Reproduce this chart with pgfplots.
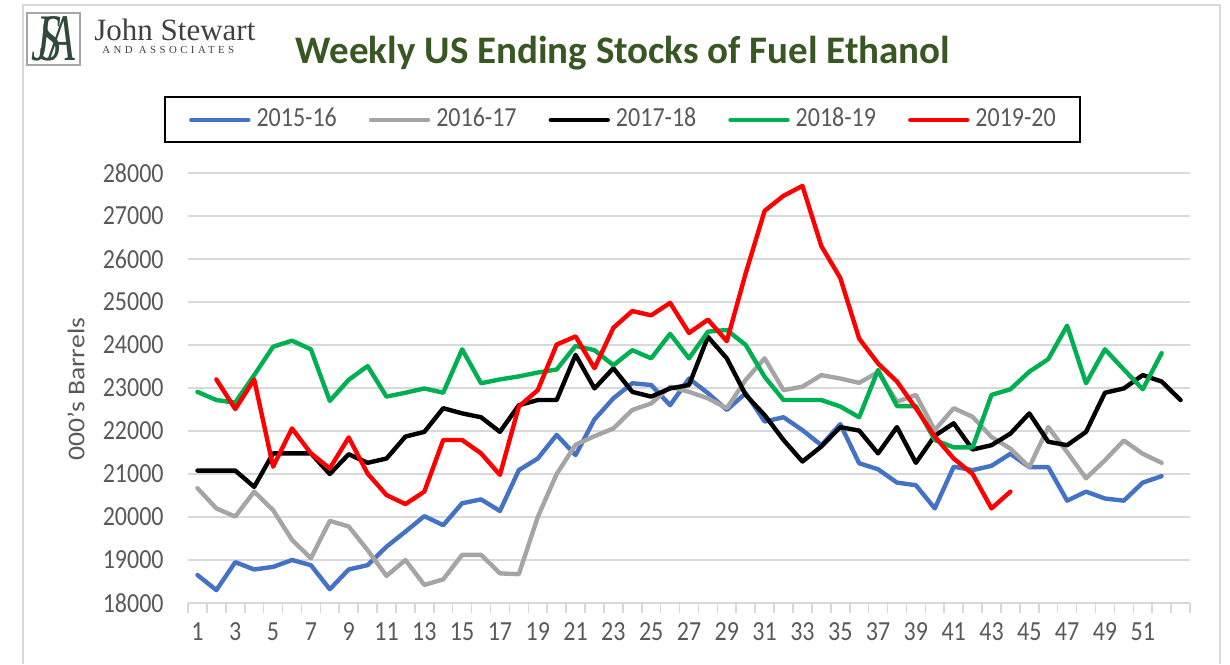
\documentclass[border=0pt]{standalone}
\usepackage{pgfplots}
\pgfplotsset{compat=1.18}
\usepackage{fontspec}
\usepackage{graphicx}
\setmainfont{Carlito}
\newfontfamily\serifjs{Liberation Serif}
\newfontfamily\serifjsls[LetterSpace=32]{Liberation Serif}
\definecolor{sA}{HTML}{4472C4}
\definecolor{sB}{HTML}{A5A5A5}
\definecolor{sC}{HTML}{000000}
\definecolor{sD}{HTML}{00B050}
\definecolor{sE}{HTML}{FF0000}
\definecolor{textgray}{HTML}{595959}
\definecolor{gridgray}{HTML}{D9D9D9}
\definecolor{titlegreen}{HTML}{385723}
\definecolor{logogreen}{HTML}{2F4A3A}
\newcommand\vs[1]{\scalebox{1}[1.15]{#1}}

\pgfplotstableread{
w v
1 18650
2 18300
3 18950
4 18780
5 18840
6 19000
7 18880
8 18320
9 18780
10 18880
11 19310
12 19660
13 20020
14 19810
15 20320
16 20410
17 20140
18 21090
19 21360
20 21910
21 21440
22 22270
23 22760
24 23110
25 23070
26 22600
27 23220
28 22880
29 22490
30 22880
31 22220
32 22320
33 22020
34 21670
35 22160
36 21250
37 21110
38 20800
39 20740
40 20200
41 21170
42 21090
43 21190
44 21470
45 21160
46 21160
47 20380
48 20590
49 20430
50 20380
51 20800
52 20950
}\tA

\pgfplotstableread{
w v
1 20670
2 20200
3 20010
4 20590
5 20160
6 19470
7 19040
8 19910
9 19780
10 19230
11 18630
12 19000
13 18420
14 18550
15 19120
16 19120
17 18690
18 18670
19 20000
20 21000
21 21680
22 21880
23 22060
24 22490
25 22640
26 23030
27 22910
28 22760
29 22530
30 23190
31 23690
32 22950
33 23030
34 23300
35 23220
36 23120
37 23370
38 22680
39 22840
40 22020
41 22530
42 22330
43 21860
44 21590
45 21160
46 22090
47 21510
48 20900
49 21320
50 21780
51 21470
52 21260
}\tB

\pgfplotstableread{
w v
1 21080
2 21080
3 21080
4 20700
5 21480
6 21480
7 21480
8 21000
9 21460
10 21260
11 21360
12 21870
13 21980
14 22530
15 22410
16 22320
17 21980
18 22600
19 22720
20 22720
21 23770
22 22990
23 23460
24 22910
25 22800
26 22990
27 23070
28 24190
29 23690
30 22840
31 22370
32 21790
33 21290
34 21640
35 22090
36 22010
37 21480
38 22090
39 21260
40 21890
41 22180
42 21570
43 21670
44 21940
45 22410
46 21750
47 21670
48 21980
49 22890
50 22990
51 23300
52 23150
53 22720
}\tC

\pgfplotstableread{
w v
1 22910
2 22720
3 22660
4 23300
5 23960
6 24100
7 23900
8 22700
9 23190
10 23510
11 22800
12 22890
13 22990
14 22890
15 23900
16 23110
17 23200
18 23270
19 23360
20 23430
21 23980
22 23880
23 23530
24 23880
25 23690
26 24260
27 23690
28 24310
29 24350
30 24000
31 23260
32 22720
33 22720
34 22720
35 22570
36 22320
37 23420
38 22580
39 22580
40 21790
41 21620
42 21620
43 22840
44 22970
45 23380
46 23670
47 24450
48 23110
49 23900
50 23430
51 22970
52 23810
}\tD

\pgfplotstableread{
w v
2 23200
3 22510
4 23200
5 21170
6 22060
7 21480
8 21130
9 21850
10 21010
11 20510
12 20300
13 20590
14 21790
15 21790
16 21480
17 20980
18 22570
19 22950
20 24010
21 24200
22 23460
23 24400
24 24790
25 24690
26 24980
27 24280
28 24590
29 24090
30 25670
31 27120
32 27470
33 27700
34 26300
35 25560
36 24150
37 23570
38 23150
39 22530
40 21870
41 21360
42 21000
43 20200
44 20590
}\tE

\begin{document}
\begin{tikzpicture}
\useasboundingbox (0pt,0pt) rectangle (615pt,-332pt);
% outer frame
\draw[gridgray, line width=1pt] (11.35pt,-332pt) -- (11.35pt,-2.5pt) -- (610pt,-2.5pt) -- (610pt,-332pt);
% logo
\draw[gray!70, line width=0.9pt] (13.5pt,-6.5pt) rectangle (40pt,-32.5pt);
\node[text=logogreen, inner sep=0pt] at (26.75pt,-19.5pt)
  {\resizebox{22pt}{22pt}{\serifjs\itshape J\kern-0.25em S\kern-0.3em A}};
\node[text=black!75, inner sep=0pt, anchor=base west] at (47pt,-20pt)
  {\fontsize{15.5}{15.5}\selectfont\serifjs John Stewart};
\node[text=black!75, inner sep=0pt, anchor=base west] at (51pt,-26.5pt)
  {\fontsize{5.4}{5.4}\selectfont\serifjsls AND ASSOCIATES};
% title
\node[text=titlegreen, inner sep=0pt, anchor=base] at (311.5pt,-31.5pt)
  {\fontsize{19.5}{19.5}\selectfont\bfseries Weekly US Ending Stocks of Fuel Ethanol};
% y label
\node[text=textgray, inner sep=0pt, rotate=90, font=\fontsize{12}{12}\selectfont] at (38pt,-194.5pt)
  {\scalebox{1.15}[1]{000's Barrels}};
\begin{axis}[
  at={(94pt,-301.5pt)}, anchor=south west,
  scale only axis, width=501pt, height=215pt,
  xmin=0.5, xmax=53.5, ymin=18000, ymax=28000,
  axis x line*=bottom, axis y line*=left,
  x axis line style={-, gridgray, line width=1pt},
  y axis line style={draw=none},
  xtick={1,3,...,51},
  minor xtick={0.5,1.5,...,53.5},
  ytick={18000,19000,...,28000},
  scaled y ticks=false, scaled x ticks=false,
  major tick length=0pt, minor tick length=5pt, tick align=outside,
  minor tick style={gridgray, line width=0.8pt},
  ymajorgrids, grid style={gridgray, line width=0.8pt},
  /pgf/number format/1000 sep={},
  /pgf/number format/assume math mode=true,
  tick label style={font=\fontsize{12}{12}\selectfont, text=textgray},
  xticklabel={\vs{\pgfmathprintnumber[fixed,precision=0]{\tick}}},
  yticklabel={\vs{\pgfmathprintnumber[fixed,precision=0]{\tick}}},
  xticklabel style={anchor=north, inner sep=0pt, yshift=-9.5pt},
  yticklabel style={anchor=east, inner sep=0pt, xshift=-12pt},
  no markers,
  every axis plot/.append style={line width=2.2pt, line join=round, line cap=round},
  legend columns=5,
  legend image code/.code={\draw[#1] (0pt,0pt) -- (28.5pt,0pt);},
  legend style={at={(0.4336,1.1233)}, anchor=center,
    draw=black, line width=1pt, fill=white,
    inner xsep=12pt, inner ysep=6pt,
    font=\fontsize{12}{12}\selectfont, text=textgray,
    nodes={inner sep=0pt, text height=8.5pt, text depth=2pt},
    cells={anchor=west},
    /tikz/every odd column/.append style={column sep=3pt},
    /tikz/every even column/.append style={column sep=16pt}},
]
\addplot[sA] table[x=w,y=v] {\tA}; \addlegendentry{\vs{2015-16}}
\addplot[sB] table[x=w,y=v] {\tB}; \addlegendentry{\vs{2016-17}}
\addplot[sC] table[x=w,y=v] {\tC}; \addlegendentry{\vs{2017-18}}
\addplot[sD] table[x=w,y=v] {\tD}; \addlegendentry{\vs{2018-19}}
\addplot[sE] table[x=w,y=v] {\tE}; \addlegendentry{\vs{2019-20}}
\end{axis}
\end{tikzpicture}
\end{document}
